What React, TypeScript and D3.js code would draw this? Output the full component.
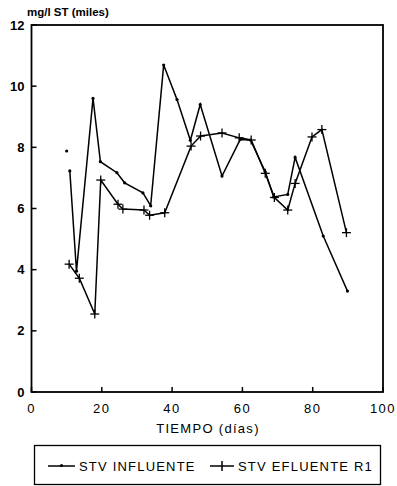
import * as d3 from 'd3'

// STV influente (puntos)
const diasInfluente = [10.9, 12.8, 17.5, 19.6, 24.3, 26.5, 31.7, 33.9, 37.6, 41.4, 45.2, 48.0, 54.2, 59.4, 62.3, 66.5, 68.9, 72.9, 75.0, 83.0, 89.9]
const stvInfluente = [7.23, 3.95, 9.6, 7.53, 7.17, 6.84, 6.51, 6.09, 10.69, 9.56, 8.23, 9.4, 7.06, 8.26, 8.24, 7.2, 6.38, 6.46, 7.67, 5.1, 3.3]

// punto suelto al inicio
const diaSuelto = [10.0]
const stvSuelto = [7.88]

// STV efluente R1 (cruces)
const diasEfluente = [10.7, 13.6, 18.0, 19.7, 24.6, 26.0, 32.0, 33.6, 37.9, 45.4, 48.1, 54.2, 59.1, 62.5, 66.5, 69.1, 72.9, 75.0, 79.8, 82.6, 89.6]
const stvEfluente = [4.18, 3.72, 2.55, 6.93, 6.14, 5.98, 5.95, 5.78, 5.86, 8.04, 8.37, 8.47, 8.31, 8.24, 7.15, 6.36, 5.95, 6.82, 8.34, 8.58, 5.21]

const xTicks = [0, 20, 40, 60, 80, 100]
const yTicks = [0, 2, 4, 6, 8, 10, 12]

const font = '"Liberation Sans", Arial, sans-serif'

export default function App() {
  const width = 397
  const height = 486
  const left = 31.5
  const right = 383
  const top = 25
  const bottom = 392

  const x = d3.scaleLinear().domain([0, 100]).range([left, right])
  const y = d3.scaleLinear().domain([0, 12]).range([bottom, top])

  const influente = diasInfluente.map((d, i) => [d, stvInfluente[i]] as [number, number])
  const efluente = diasEfluente.map((d, i) => [d, stvEfluente[i]] as [number, number])

  const line = d3.line<[number, number]>()
    .x(d => x(d[0]))
    .y(d => y(d[1]))

  const plus = (cx: number, cy: number, k: string) => (
    <g key={k} stroke="#000" strokeWidth={1.3}>
      <line x1={cx - 4.5} x2={cx + 4.5} y1={cy} y2={cy} />
      <line x1={cx} x2={cx} y1={cy - 4.5} y2={cy + 4.5} />
    </g>
  )

  return (
    <svg width={width} height={height} style={{ position: 'absolute', left: 0, top: 0, background: '#fff' }}>
      {/* titulo eje y */}
      <text x={27} y={16} fontFamily={font} fontSize={11.5} fontWeight="bold" fill="#000">mg/l ST (miles)</text>

      {/* marco */}
      <rect x={left} y={top} width={right - left} height={bottom - top} fill="none" stroke="#000" strokeWidth={1.8} />

      {/* eje y */}
      {yTicks.map(t => (
        <g key={'y' + t}>
          <line x1={left} x2={left + 5} y1={y(t)} y2={y(t)} stroke="#000" strokeWidth={1.5} />
          <text x={left - 7} y={y(t) + 4.5} textAnchor="end" fontFamily={font} fontSize={13} fontWeight="bold" fill="#000">{t}</text>
        </g>
      ))}

      {/* eje x */}
      {xTicks.map(t => (
        <g key={'x' + t}>
          <line x1={x(t)} x2={x(t)} y1={bottom} y2={bottom - 5} stroke="#000" strokeWidth={1.5} />
          <text x={x(t)} y={bottom + 21} textAnchor="middle" fontFamily={font} fontSize={13} letterSpacing={1.5} fill="#000">{t}</text>
        </g>
      ))}
      <text x={208} y={433} textAnchor="middle" fontFamily={font} fontSize={13} letterSpacing={1.3} fill="#000">TIEMPO (días)</text>

      {/* series */}
      <path d={line(influente) ?? ''} fill="none" stroke="#000" strokeWidth={1.5} />
      {influente.map((d, i) => (
        <circle key={'i' + i} cx={x(d[0])} cy={y(d[1])} r={1.6} fill="#000" />
      ))}
      {diaSuelto.map((d, i) => (
        <circle key={'s' + i} cx={x(d)} cy={y(stvSuelto[i])} r={1.6} fill="#000" />
      ))}
      <path d={line(efluente) ?? ''} fill="none" stroke="#000" strokeWidth={1.5} />
      {efluente.map((d, i) => plus(x(d[0]), y(d[1]), 'e' + i))}

      {/* leyenda */}
      <rect x={34.5} y={445.5} width={346} height={39} fill="none" stroke="#000" strokeWidth={1.3} />
      <line x1={48} x2={75} y1={466} y2={466} stroke="#000" strokeWidth={1.5} />
      <circle cx={61.5} cy={465.5} r={1.6} fill="#000" />
      <text x={79} y={471} fontFamily={font} fontSize={13} letterSpacing={1.2} fill="#000">STV INFLUENTE</text>
      <line x1={210} x2={234} y1={466} y2={466} stroke="#000" strokeWidth={1.5} />
      <line x1={222} x2={222} y1={461} y2={471} stroke="#000" strokeWidth={1.5} />
      <text x={238} y={471} fontFamily={font} fontSize={13} letterSpacing={1.2} fill="#000">STV EFLUENTE R1</text>
    </svg>
  )
}
